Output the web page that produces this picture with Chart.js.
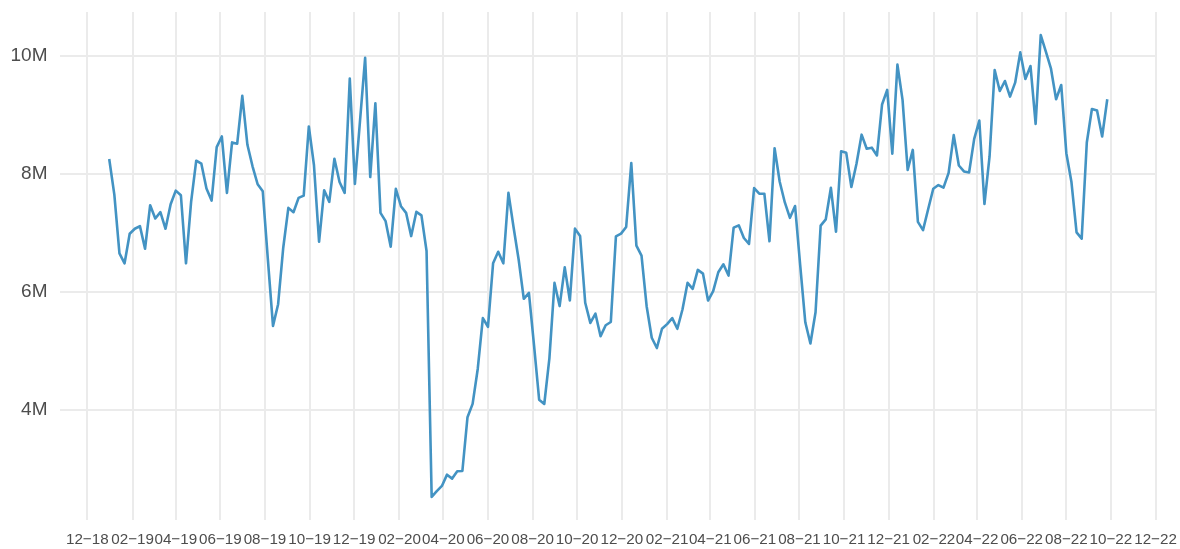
<!DOCTYPE html>
<html>
<head>
<meta charset="utf-8">
<script src="https://cdn.jsdelivr.net/npm/chart.js@4.4.1/dist/chart.umd.min.js"></script>
<style>
html,body{margin:0;padding:0;background:#ffffff;}
#wrap{width:1180px;height:549px;position:relative;}
</style>
</head>
<body>
<div id="wrap"><canvas id="c" width="1180" height="549"></canvas></div>
<script>
// Weekly observations (values in millions), first week starting Monday 2018-12-31
const firstWeek = '2018-12-31';
const values2019 = [8.255, 7.653, 6.657, 6.489, 6.99, 7.074, 7.119, 6.736, 7.473, 7.248, 7.355, 7.074, 7.49,
  7.72, 7.642, 6.489, 7.53, 8.227, 8.177, 7.755, 7.552, 8.458, 8.638, 7.682, 8.537, 8.514,
  9.325, 8.497, 8.132, 7.828, 7.71, 6.55, 5.43, 5.796, 6.753, 7.428, 7.355, 7.597, 7.636,
  8.807, 8.154, 6.854, 7.727, 7.53, 8.261, 7.867, 7.682, 9.617, 7.833, 8.9, 9.97, 7.95];
const values2020 = [9.2, 7.344, 7.203, 6.77, 7.75, 7.456, 7.344, 6.95, 7.36, 7.3, 6.697, 2.532, 2.63,
  2.718, 2.909, 2.842, 2.966, 2.971, 3.883, 4.108, 4.699, 5.56, 5.414, 6.489, 6.685, 6.489,
  7.682, 7.1, 6.55, 5.888, 5.989, 5.1, 4.179, 4.106, 4.88, 6.157, 5.765, 6.42, 5.86,
  7.076, 6.952, 5.821, 5.479, 5.636, 5.255, 5.44, 5.495, 6.946, 6.992, 7.104, 8.186, 6.789];
const values2021 = [6.62, 5.763, 5.228, 5.054, 5.38, 5.459, 5.561, 5.38, 5.707, 6.158, 6.056, 6.377, 6.315,
  5.859, 6.017, 6.338, 6.473, 6.282, 7.093, 7.132, 6.918, 6.817, 7.763, 7.668, 7.668, 6.862,
  8.439, 7.87, 7.52, 7.26, 7.46, 6.46, 5.49, 5.13, 5.66, 7.127, 7.234, 7.768, 7.023,
  8.387, 8.36, 7.782, 8.175, 8.668, 8.43, 8.448, 8.316, 9.18, 9.427, 8.347, 9.854, 9.258];
const values2022 = [8.07, 8.41, 7.19, 7.051, 7.404, 7.753, 7.815, 7.77, 8.022, 8.66, 8.146, 8.045, 8.028,
  8.597, 8.907, 7.493, 8.299, 9.763, 9.408, 9.577, 9.313, 9.549, 10.062, 9.611, 9.831, 8.851,
  10.355, 10.073, 9.786, 9.268, 9.51, 8.355, 7.865, 7.014, 6.907, 8.535, 9.104, 9.076, 8.637, 9.268];

const tickDates = ['2018-12-01','2019-02-01','2019-04-01','2019-06-01','2019-08-01','2019-10-01',
  '2019-12-01','2020-02-01','2020-04-01','2020-06-01','2020-08-01','2020-10-01','2020-12-01',
  '2021-02-01','2021-04-01','2021-06-01','2021-08-01','2021-10-01','2021-12-01','2022-02-01',
  '2022-04-01','2022-06-01','2022-08-01','2022-10-01','2022-12-01'];
const tickLabels = ['12\u221218','02\u221219','04\u221219','06\u221219','08\u221219','10\u221219',
  '12\u221219','02\u221220','04\u221220','06\u221220','08\u221220','10\u221220','12\u221220',
  '02\u221221','04\u221221','06\u221221','08\u221221','10\u221221','12\u221221','02\u221222',
  '04\u221222','06\u221222','08\u221222','10\u221222','12\u221222'];
const yTickValues = [4, 6, 8, 10];
const yTickLabels = ['4M', '6M', '8M', '10M'];

const DAY = 86400000;
function dayOf(s){ const p = s.split('-').map(Number); return Date.UTC(p[0], p[1]-1, p[2]) / DAY; }

const allValues = values2019.concat(values2020, values2021, values2022);
const start = dayOf(firstWeek);
const points = allValues.map((v, i) => ({ x: start + 7 * i, y: v }));

const FONT = "'Liberation Sans', Arial, sans-serif";

new Chart(document.getElementById('c'), {
  type: 'line',
  data: {
    datasets: [{
      data: points,
      borderColor: '#4393c3',
      borderWidth: 2.6,
      pointRadius: 0,
      tension: 0,
      fill: false,
      borderJoinStyle: 'round'
    }]
  },
  options: {
    responsive: false,
    animation: false,
    devicePixelRatio: 1,
    layout: { padding: { left: 0, right: 23, top: 12, bottom: 0 } },
    plugins: { legend: { display: false }, tooltip: { enabled: false } },
    scales: {
      x: {
        type: 'linear',
        min: dayOf('2018-10-24'),
        max: dayOf('2022-12-03'),
        border: { display: false },
        grid: { color: '#ebebeb', lineWidth: 2, drawTicks: false },
        afterBuildTicks: (s) => { s.ticks = tickDates.map(d => ({ value: dayOf(d) })); },
        afterFit: (s) => { s.height = 29; s.paddingLeft = 0; s.paddingRight = 0; },
        ticks: {
          autoSkip: false, maxRotation: 0, minRotation: 0, padding: 11,
          color: '#4d4d4d', font: { family: FONT, size: 15.2 },
          callback: (v, i) => tickLabels[i]
        }
      },
      y: {
        type: 'linear',
        min: 2.141,
        max: 10.746,
        border: { display: false },
        grid: { color: '#ebebeb', lineWidth: 2, drawTicks: false },
        afterBuildTicks: (s) => { s.ticks = yTickValues.map(v => ({ value: v })); },
        afterFit: (s) => { s.width = 59.5; s.paddingTop = 0; s.paddingBottom = 0; },
        ticks: {
          padding: 12, color: '#4d4d4d', font: { family: FONT, size: 19 },
          callback: (v, i) => yTickLabels[i]
        }
      }
    }
  }
});
</script>
</body>
</html>
